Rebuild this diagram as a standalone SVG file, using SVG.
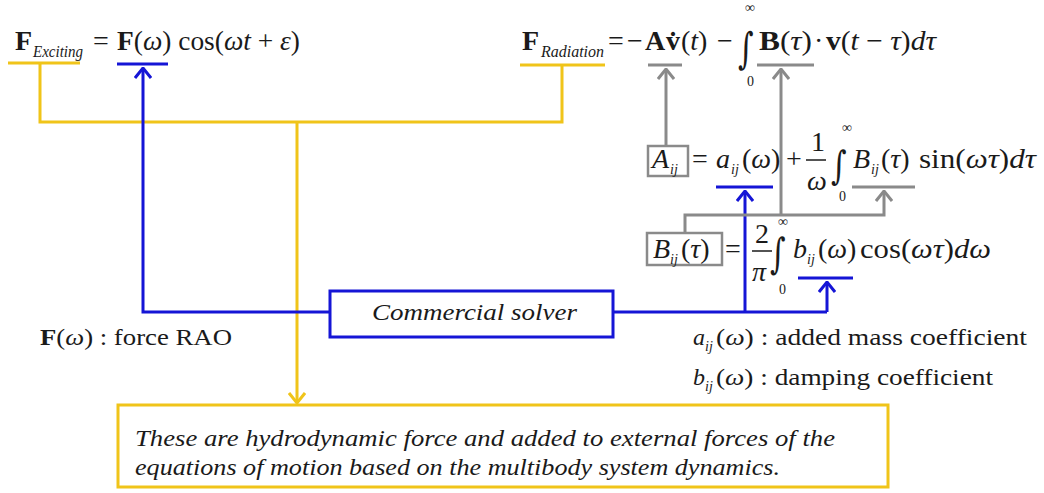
<svg xmlns="http://www.w3.org/2000/svg" width="1044" height="493" viewBox="0 0 1044 493">
<style>
text{font-family:"Liberation Serif","DejaVu Serif",serif;fill:#1a1a1a}
.f{font-size:28px}
.sub{font-size:16px;font-style:italic}
.ij{font-size:14px;font-style:italic}
.lim{font-size:14px}
.int{font-family:"DejaVu Serif",serif;font-size:30px}
.i{font-style:italic}
.b{font-weight:bold}
.yl{stroke:#F0C419;stroke-width:3;fill:none}
.bl{stroke:#1515D6;stroke-width:3;fill:none}
.gl{stroke:#8A8A8A;stroke-width:3;fill:none}
.leg{font-size:24px}
</style>
<defs>
<marker id="ay" viewBox="0 0 12 18" refX="11" refY="9" markerWidth="12" markerHeight="18" markerUnits="userSpaceOnUse" orient="auto"><path d="M1,1 L11,9 L1,17" fill="none" stroke="#F0C419" stroke-width="3"/></marker>
<marker id="ab" viewBox="0 0 12 18" refX="11" refY="9" markerWidth="12" markerHeight="18" markerUnits="userSpaceOnUse" orient="auto"><path d="M1,1 L11,9 L1,17" fill="none" stroke="#1515D6" stroke-width="3"/></marker>
<marker id="ag" viewBox="0 0 12 18" refX="11" refY="9" markerWidth="12" markerHeight="18" markerUnits="userSpaceOnUse" orient="auto"><path d="M1,1 L11,9 L1,17" fill="none" stroke="#8A8A8A" stroke-width="3"/></marker>
</defs>
<rect width="1044" height="493" fill="#ffffff"/>

<g id="connectors">
<line class="yl" x1="8" y1="63" x2="80" y2="63"/>
<line class="bl" x1="117" y1="64" x2="168" y2="64"/>
<line class="yl" x1="520" y1="65" x2="605" y2="65"/>
<line class="gl" x1="648" y1="65" x2="682" y2="65"/>
<line class="gl" x1="757" y1="65" x2="814" y2="65"/>
<line class="bl" x1="716" y1="187" x2="773" y2="187"/>
<line class="gl" x1="852" y1="187" x2="915" y2="187"/>
<line class="bl" x1="798" y1="278" x2="853" y2="278"/>
<polyline class="yl" points="40,63 40,122 562,122 562,65"/>
<line class="yl" x1="297" y1="122" x2="297" y2="403" marker-end="url(#ay)"/>
<polyline class="bl" points="330,312 143,312 143,68" marker-end="url(#ab)"/>
<line class="bl" x1="613" y1="312" x2="827" y2="312"/>
<line class="bl" x1="745" y1="312" x2="745" y2="191" marker-end="url(#ab)"/>
<line class="bl" x1="827" y1="312" x2="827" y2="282" marker-end="url(#ab)"/>
<line class="gl" x1="666" y1="146" x2="666" y2="69" marker-end="url(#ag)"/>
<polyline class="gl" points="685,233 685,215 884,215 884,191" marker-end="url(#ag)"/>
<line class="gl" x1="781" y1="215" x2="781" y2="69" marker-end="url(#ag)"/>
</g>

<g id="eq-exciting">
<text class="f b" x="15" y="50">F</text>
<text class="sub" x="33" y="57" textLength="50" lengthAdjust="spacingAndGlyphs">Exciting</text>
<text class="f" x="93" y="50">=</text>
<text class="f" x="117" y="50" textLength="183" lengthAdjust="spacingAndGlyphs"><tspan class="b">F</tspan>(<tspan class="i">ω</tspan>) cos(<tspan class="i">ωt</tspan> + <tspan class="i">ε</tspan>)</text>
</g>

<g id="eq-radiation">
<text class="f b" x="522" y="50">F</text>
<text class="sub" x="541" y="57" textLength="63" lengthAdjust="spacingAndGlyphs">Radiation</text>
<text class="f" x="608" y="50">=</text>
<text class="f" x="627" y="50">−</text>
<text class="f b" x="645" y="50">A</text>
<text class="f b" x="666" y="50">v̇</text>
<text class="f" x="681" y="50">(<tspan class="i">t</tspan>)</text>
<text class="f" x="717" y="50">−</text>
<text class="int" transform="translate(738,63) scale(1,1.42)">∫</text>
<text class="lim" x="745" y="12">∞</text>
<text class="lim" x="747" y="86">0</text>
<text class="f" x="759" y="50" textLength="53" lengthAdjust="spacingAndGlyphs"><tspan class="b">B</tspan>(<tspan class="i">τ</tspan>)</text>
<text class="f" x="814" y="50">·</text>
<text class="f" x="826" y="50" textLength="110" lengthAdjust="spacingAndGlyphs"><tspan class="b">v</tspan>(<tspan class="i">t</tspan> − <tspan class="i">τ</tspan>)<tspan class="i">dτ</tspan></text>
</g>

<g id="eq-A">
<rect x="648" y="146" width="40" height="30" fill="none" stroke="#8A8A8A" stroke-width="2.5"/>
<text class="f i" x="652" y="168">A</text>
<text class="ij" x="670" y="174">ij</text>
<text class="f" x="692" y="168">=</text>
<text class="f i" x="716" y="168">a</text>
<text class="ij" x="731" y="174">ij</text>
<text class="f" x="742" y="168">(<tspan class="i">ω</tspan>)</text>
<text class="f" x="786" y="168">+</text>
<text class="f" x="811" y="151" font-size="26">1</text>
<line x1="806" y1="160" x2="826" y2="160" stroke="#1a1a1a" stroke-width="1.5"/>
<text class="f i" x="807" y="190">ω</text>
<text class="int" transform="translate(831,179) scale(1,1.3)">∫</text>
<text class="lim" x="842" y="132">∞</text>
<text class="lim" x="839" y="201">0</text>
<text class="f i" x="853" y="168">B</text>
<text class="ij" x="871" y="174">ij</text>
<text class="f" x="881" y="168">(<tspan class="i">τ</tspan>)</text>
<text class="f" x="919" y="168" textLength="117" lengthAdjust="spacingAndGlyphs">sin(<tspan class="i">ωτ</tspan>)<tspan class="i">dτ</tspan></text>
</g>

<g id="eq-B">
<rect x="647" y="233" width="75" height="32" fill="none" stroke="#8A8A8A" stroke-width="2.5"/>
<text class="f i" x="653" y="258">B</text>
<text class="ij" x="670" y="264">ij</text>
<text class="f" x="681" y="258">(<tspan class="i">τ</tspan>)</text>
<text class="f" x="725" y="258">=</text>
<text class="f" x="755" y="243" font-size="26">2</text>
<line x1="752" y1="251" x2="772" y2="251" stroke="#1a1a1a" stroke-width="1.5"/>
<text class="f i" x="752" y="281">π</text>
<text class="int" transform="translate(770,268) scale(1,1.4)">∫</text>
<text class="lim" x="778" y="226">∞</text>
<text class="lim" x="779" y="294">0</text>
<text class="f i" x="793" y="258">b</text>
<text class="ij" x="807" y="264">ij</text>
<text class="f" x="818" y="258">(<tspan class="i">ω</tspan>)</text>
<text class="f" x="860" y="258" textLength="131" lengthAdjust="spacingAndGlyphs">cos(<tspan class="i">ωτ</tspan>)<tspan class="i">dω</tspan></text>
</g>

<g id="solver">
<rect x="330" y="291" width="283" height="46" fill="#ffffff" stroke="#1515D6" stroke-width="3"/>
<text x="372" y="320" font-size="24" font-style="italic" textLength="205" lengthAdjust="spacingAndGlyphs">Commercial solver</text>
</g>

<g id="legend-F">
<text class="leg" x="40" y="345" textLength="192" lengthAdjust="spacingAndGlyphs"><tspan class="b">F</tspan>(<tspan class="i">ω</tspan>) : force RAO</text>
</g>

<g id="legend-a">
<text class="leg i" x="693" y="345">a</text>
<text class="ij" x="705" y="351">ij</text>
<text class="leg" x="716" y="345" textLength="311" lengthAdjust="spacingAndGlyphs">(<tspan class="i">ω</tspan>) : added mass coefficient</text>
</g>

<g id="legend-b">
<text class="leg i" x="693" y="385">b</text>
<text class="ij" x="705" y="391">ij</text>
<text class="leg" x="716" y="385" textLength="277" lengthAdjust="spacingAndGlyphs">(<tspan class="i">ω</tspan>)  : damping coefficient</text>
</g>

<g id="note">
<rect x="118" y="405" width="770" height="82" fill="#ffffff" stroke="#F0C419" stroke-width="3"/>
<text x="135" y="446" font-size="24" font-style="italic" textLength="700" lengthAdjust="spacingAndGlyphs">These are hydrodynamic force and added to external forces of the</text>
<text x="135" y="475" font-size="24" font-style="italic" textLength="645" lengthAdjust="spacingAndGlyphs">equations of motion based on the multibody system dynamics.</text>
</g>
</svg>
